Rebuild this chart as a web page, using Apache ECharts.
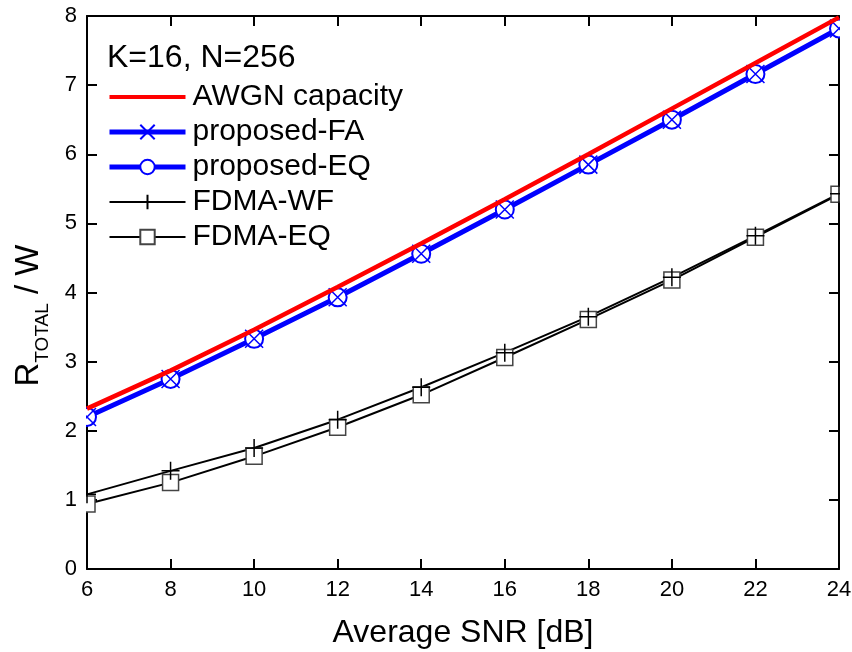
<!DOCTYPE html>
<html><head><meta charset="utf-8">
<script src="https://cdn.jsdelivr.net/npm/echarts@6/dist/echarts.min.js"></script>
<style>html,body{margin:0;padding:0;background:#fff}#c{width:852px;height:652px}</style>
</head><body><div id="c"></div>
<script>
const snr = [6, 8, 10, 12, 14, 16, 18, 20, 22, 24];
const awgn = [2.32, 2.87, 3.46, 4.08, 4.71, 5.35, 6.00, 6.66, 7.32, 7.98];
const propFA = [2.20, 2.75, 3.33, 3.93, 4.56, 5.20, 5.85, 6.50, 7.16, 7.82];
const propEQ = [2.20, 2.75, 3.33, 3.93, 4.56, 5.20, 5.85, 6.50, 7.16, 7.82];
const fdmaWF = [1.08, 1.42, 1.75, 2.16, 2.63, 3.13, 3.65, 4.22, 4.82, 5.43];
const fdmaEQ = [0.94, 1.25, 1.63, 2.05, 2.52, 3.06, 3.61, 4.18, 4.80, 5.42];
const xTicks = [6, 8, 10, 12, 14, 16, 18, 20, 22, 24];
const yTicks = [0, 1, 2, 3, 4, 5, 6, 7, 8];

const pairs = ys => snr.map((x, i) => [x, ys[i]]);
const FONT = 'Liberation Sans, Arial, sans-serif';
const X_PATH = 'path://M0,0L10,10M10,0L0,10';
const PLUS_PATH = 'path://M5,0L5,10M0,5L10,5';
const BAR_PATH = 'path://M0,0L76,0L76,4L0,4Z';

const chart = echarts.init(document.getElementById('c'), null, {renderer: 'canvas'});
const axisCommon = {
  axisLine: {show: true, onZero: false, lineStyle: {color: '#000', width: 2}},
  axisTick: {show: true, inside: true, length: 10, lineStyle: {color: '#000', width: 2}},
  splitLine: {show: false}
};
chart.setOption({
  animation: false,
  backgroundColor: '#fff',
  title: {text: 'K=16, N=256', left: 102, top: 37,
    textStyle: {fontFamily: FONT, fontSize: 32, fontWeight: 'normal', color: '#000'}},
  legend: {
    orient: 'vertical', left: 102, top: 77, itemWidth: 76, itemHeight: 18, itemGap: 5,
    textStyle: {fontFamily: FONT, fontSize: 30, color: '#000', padding: [0, 0, 0, 2]},
    data: [
      {name: 'AWGN capacity', icon: BAR_PATH, itemStyle: {color: '#ff0000'}},
      {name: 'proposed-FA', lineStyle: {color: '#0000ff', width: 5, opacity: 1}},
      {name: 'proposed-EQ', lineStyle: {color: '#0000ff', width: 5, opacity: 1}},
      {name: 'FDMA-WF'},
      {name: 'FDMA-EQ'}
    ]
  },
  grid: {left: 87, right: 13, top: 16, bottom: 83, containLabel: false, outerBoundsMode: 'none'},
  xAxis: [
    Object.assign({type: 'value', min: xTicks[0], max: xTicks[xTicks.length - 1], interval: 2,
      name: 'Average SNR [dB]', nameLocation: 'middle', nameGap: 48,
      nameTextStyle: {fontFamily: FONT, fontSize: 32, color: '#000'},
      axisLabel: {fontFamily: FONT, fontSize: 22, color: '#000', margin: 10}}, axisCommon),
    Object.assign({type: 'value', position: 'top', min: xTicks[0], max: xTicks[xTicks.length - 1], interval: 2,
      axisLabel: {show: false}}, axisCommon)
  ],
  yAxis: [
    Object.assign({type: 'value', min: yTicks[0], max: yTicks[yTicks.length - 1], interval: 1,
      name: '{a|R}{s|TOTAL}{a| / W}', nameLocation: 'middle', nameGap: 42, nameRotate: 90,
      nameTextStyle: {fontFamily: FONT, color: '#000', padding: [0, 46, 0, 0],
        rich: {a: {fontFamily: FONT, fontSize: 33, color: '#000', verticalAlign: 'bottom', lineHeight: 38},
               s: {fontFamily: FONT, fontSize: 19, color: '#000', verticalAlign: 'bottom', lineHeight: 25, padding: [0, 0, -7, 0]}}},
      axisLabel: {fontFamily: FONT, fontSize: 22, color: '#000', margin: 10}}, axisCommon),
    Object.assign({type: 'value', position: 'right', min: yTicks[0], max: yTicks[yTicks.length - 1], interval: 1,
      axisLabel: {show: false}}, axisCommon)
  ],
  graphic: [
    {type: 'rect', left: 76, top: 16, shape: {width: 10, height: 553}, style: {fill: '#fff'}, z: 100, silent: true},
    {type: 'rect', left: 840, top: 16, shape: {width: 12, height: 553}, style: {fill: '#fff'}, z: 100, silent: true}
  ],
  series: [
    {name: 'FDMA-EQ', type: 'line', data: pairs(fdmaEQ), symbol: 'rect', symbolSize: 16, z: 2,
      lineStyle: {color: '#000', width: 2}, itemStyle: {color: '#fff', borderColor: '#444', borderWidth: 1.5}},
    {name: 'FDMA-WF', type: 'line', data: pairs(fdmaWF), symbol: PLUS_PATH, symbolSize: 18, z: 2,
      lineStyle: {color: '#000', width: 2}, itemStyle: {color: 'transparent', borderColor: '#000', borderWidth: 1.5}},
    {name: 'proposed-EQ', type: 'line', data: pairs(propEQ), symbol: 'emptyCircle', symbolSize: 18, z: 3,
      lineStyle: {color: '#0000ff', width: 5}, itemStyle: {color: '#0000ff', borderColor: '#0000ff', borderWidth: 1.5}},
    {name: 'proposed-FA', type: 'line', data: pairs(propFA), symbol: X_PATH, symbolSize: 18, z: 4,
      lineStyle: {color: '#0000ff', width: 5, opacity: 0}, itemStyle: {color: 'transparent', borderColor: '#0000ff', borderWidth: 1.5}},
    {name: 'AWGN capacity', type: 'line', data: pairs(awgn), symbol: 'none', z: 5,
      lineStyle: {color: '#ff0000', width: 4.5}, itemStyle: {color: '#ff0000'}}
  ]
});
</script></body></html>
